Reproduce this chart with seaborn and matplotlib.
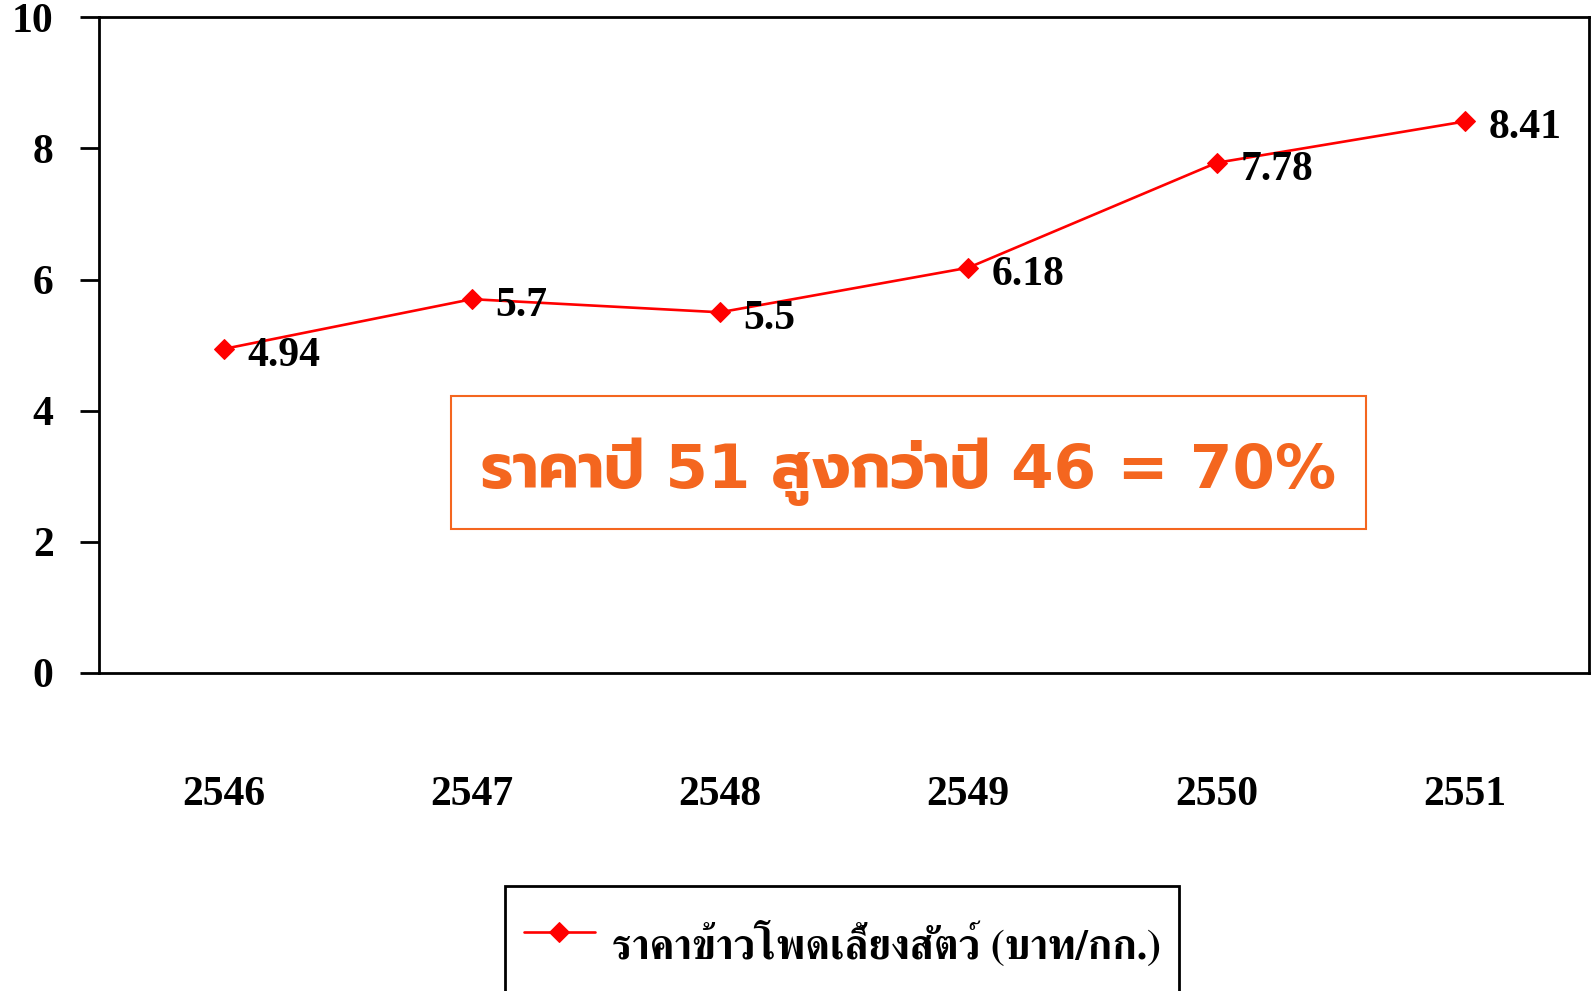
import matplotlib
matplotlib.use("Agg")
import matplotlib.pyplot as plt
import seaborn as sns
import pandas as pd
from matplotlib.patches import Rectangle
from matplotlib.ticker import FixedLocator

years = ["2546", "2547", "2548", "2549", "2550", "2551"]
prices = [4.94, 5.7, 5.5, 6.18, 7.78, 8.41]
series_name = "ราคาข้าวโพดเลี้ยงสัตว์ (บาท/กก.)"
note_text = "ราคาปี 51 สูงกว่าปี 46 = 70%"
y_ticks = [0, 2, 4, 6, 8, 10]

sns.set_theme(style="white")
serif = ["Liberation Serif", "FreeSerif", "DejaVu Sans"]
plt.rcParams["font.family"] = serif
plt.rcParams["text.color"] = "black"
plt.rcParams["xtick.color"] = "black"
plt.rcParams["ytick.color"] = "black"

df = pd.DataFrame({"year": years, "price": prices})
df["x"] = range(len(years))

fig = plt.figure(figsize=(15.91, 9.91), dpi=100)
ax = fig.add_axes([0.0625, 0.321, 0.9362, 0.6616])

sns.lineplot(data=df, x="x", y="price", ax=ax, color="#FF0000", linewidth=1.9,
             marker="D", markersize=10, markeredgecolor="#FF0000",
             label=series_name, legend=False)

for xi, v in zip(df["x"], prices):
    ax.annotate(f"{v:g}", (xi, v), xytext=(17, -5), textcoords="offset points",
                ha="left", va="center", fontsize=30, fontweight="bold",
                family=serif, color="black")

ax.set_xlim(-0.5, len(years) - 0.5)
ax.set_ylim(0, 10)
ax.set_yticks(y_ticks)
ax.set_yticklabels([str(t) for t in y_ticks], fontsize=30, fontweight="bold", family=serif)
ax.set_xticks(range(len(years)))
ax.set_xticklabels(years, fontsize=30, fontweight="bold", family=serif)
ax.xaxis.set_minor_locator(FixedLocator([i - 0.5 for i in range(len(years) + 1)]))
ax.tick_params(axis="x", which="major", length=0, pad=74, labelcolor="black")
ax.tick_params(axis="x", which="minor", length=17, width=2, color="black", direction="out")
ax.tick_params(axis="y", which="major", length=14, width=2, color="black",
               direction="out", pad=19, left=True, labelcolor="black")
ax.set_xlabel("")
ax.set_ylabel("")
for s in ax.spines.values():
    s.set_color("black")
    s.set_linewidth(2)
ax.grid(False)

orange = "#F4661F"
ax.add_patch(Rectangle((0.918, 2.20), 3.682, 2.027, fill=False, edgecolor=orange,
                       linewidth=1.5, clip_on=False))
ax.text(2.76, 3.07, note_text, ha="center", va="center", fontsize=44,
        fontweight="bold", color=orange, family=["DejaVu Sans", "Prompt"])

handles, labels = ax.get_legend_handles_labels()
leg = fig.legend(handles, labels, loc="upper left", bbox_to_anchor=(0.3176, 0.1064),
                 frameon=True, fancybox=False, edgecolor="black", framealpha=1,
                 borderpad=0.45, borderaxespad=0, handlelength=1.7, handleheight=2.75,
                 handletextpad=0.4,
                 prop={"family": ["FreeSerif", "DejaVu Sans"], "size": 30, "weight": "bold"})
leg.get_frame().set_linewidth(2)

fig.savefig("out.png", dpi=100)
